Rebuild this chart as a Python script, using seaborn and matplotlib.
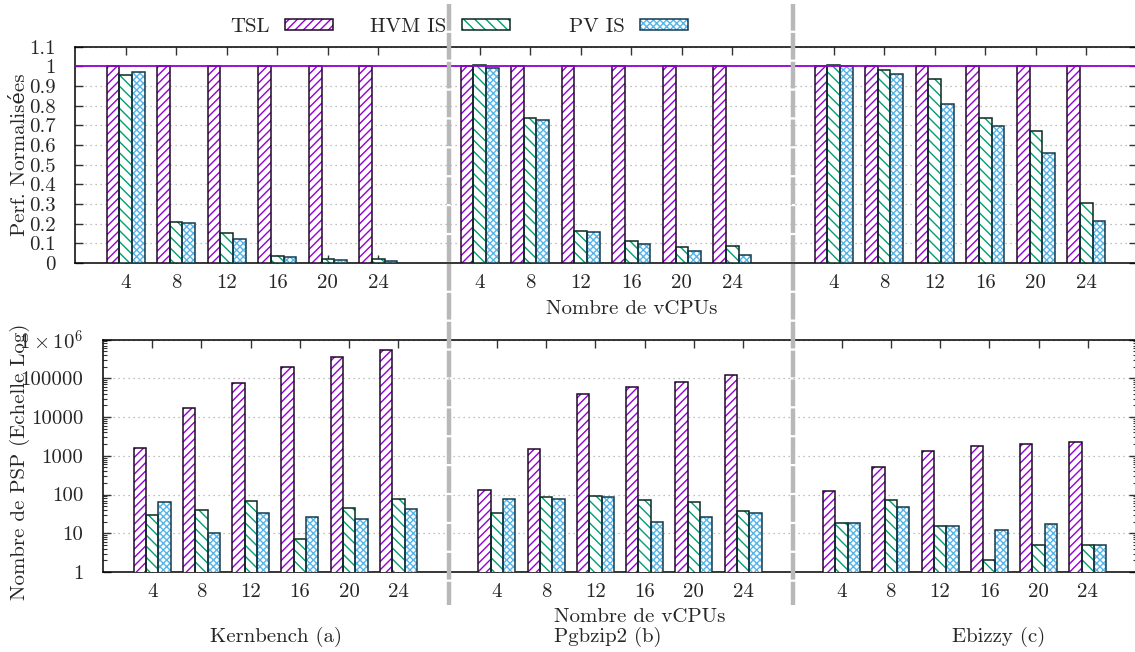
import matplotlib
matplotlib.use("Agg")
import matplotlib.pyplot as plt
import seaborn as sns
import pandas as pd
from matplotlib.patches import Patch, Rectangle
from matplotlib.ticker import LogLocator, NullFormatter

# ---------------- data ----------------
benchmarks = ["Kernbench (a)", "Pgbzip2 (b)", "Ebizzy (c)"]
vcpus = [4, 8, 12, 16, 20, 24]
series = ["TSL", "HVM IS", "PV IS"]

# normalised performance (top panel)
perf_tsl_kernbench = [1.0, 1.0, 1.0, 1.0, 1.0, 1.0]
perf_hvm_kernbench = [0.956, 0.206, 0.151, 0.037, 0.022, 0.020]
perf_pv_kernbench = [0.973, 0.205, 0.124, 0.032, 0.015, 0.010]
perf_tsl_pgbzip2 = [1.0, 1.0, 1.0, 1.0, 1.0, 1.0]
perf_hvm_pgbzip2 = [1.005, 0.739, 0.162, 0.113, 0.081, 0.088]
perf_pv_pgbzip2 = [0.990, 0.728, 0.157, 0.096, 0.061, 0.041]
perf_tsl_ebizzy = [1.0, 1.0, 1.0, 1.0, 1.0, 1.0]
perf_hvm_ebizzy = [1.005, 0.983, 0.934, 0.739, 0.670, 0.305]
perf_pv_ebizzy = [1.000, 0.959, 0.807, 0.699, 0.557, 0.215]

# number of PSP (bottom panel, log scale)
psp_tsl_kernbench = [1620, 16800, 74300, 192000, 355000, 540000]
psp_hvm_kernbench = [29, 40, 67, 7, 44, 75]
psp_pv_kernbench = [65, 10, 33, 27, 24, 42]
psp_tsl_pgbzip2 = [128, 1470, 40200, 61000, 79000, 119000]
psp_hvm_pgbzip2 = [33, 88, 90, 71, 63, 38]
psp_pv_pgbzip2 = [78, 77, 86, 19, 27, 34]
psp_tsl_ebizzy = [121, 525, 1300, 1750, 1980, 2320]
psp_hvm_ebizzy = [18, 72, 15, 2, 5, 5]
psp_pv_ebizzy = [18, 47, 15, 12, 17, 5]

perf_ticks = [0, 0.1, 0.2, 0.3, 0.4, 0.5, 0.6, 0.7, 0.8, 0.9, 1.0, 1.1]
perf_tick_labels = ["0", "0.1", "0.2", "0.3", "0.4", "0.5", "0.6", "0.7",
                    "0.8", "0.9", "1", "1.1"]
psp_ticks = [1, 10, 100, 1000, 10000, 100000, 1000000]
psp_tick_labels = ["1", "10", "100", "1000", "10000", "100000", r"$1\times10^{6}$"]

perf_data = {
    "Kernbench (a)": [perf_tsl_kernbench, perf_hvm_kernbench, perf_pv_kernbench],
    "Pgbzip2 (b)": [perf_tsl_pgbzip2, perf_hvm_pgbzip2, perf_pv_pgbzip2],
    "Ebizzy (c)": [perf_tsl_ebizzy, perf_hvm_ebizzy, perf_pv_ebizzy],
}
psp_data = {
    "Kernbench (a)": [psp_tsl_kernbench, psp_hvm_kernbench, psp_pv_kernbench],
    "Pgbzip2 (b)": [psp_tsl_pgbzip2, psp_hvm_pgbzip2, psp_pv_pgbzip2],
    "Ebizzy (c)": [psp_tsl_ebizzy, psp_hvm_ebizzy, psp_pv_ebizzy],
}

# ---------------- style ----------------
sns.set_theme(style="white")
FONT = ["cmr10", "DejaVu Serif"]
plt.rcParams["font.family"] = FONT
plt.rcParams["mathtext.fontset"] = "cm"
plt.rcParams["axes.formatter.use_mathtext"] = True
plt.rcParams["hatch.linewidth"] = 1.0
FS = 15

hatch_colors = {"TSL": "#9400d3", "HVM IS": "#009e73", "PV IS": "#56b4e9"}
outline_colors = {"TSL": "#1e0826", "HVM IS": "#082a1f", "PV IS": "#163a4a"}
hatches = {"TSL": "////", "HVM IS": "\\\\\\", "PV IS": "xxxxx"}

slot = len(vcpus) + 1  # one empty slot between benchmarks


def tidy(data):
    rows = []
    for b, bench in enumerate(benchmarks):
        for s, name in enumerate(series):
            for i, v in enumerate(vcpus):
                rows.append({"pos": b * slot + i, "series": name, "value": data[bench][s][i]})
    return pd.DataFrame(rows)


df_perf = tidy(perf_data)
df_psp = tidy(psp_data)
positions = sorted(df_perf["pos"].unique())
xlabels = [str(v) for v in vcpus] * len(benchmarks)

W, H = 1135, 652
fig = plt.figure(figsize=(W / 100, H / 100), dpi=100)
ax_top = fig.add_axes([75 / W, 1 - 263 / H, (1137 - 75) / W, (263 - 46.7) / H])
ax_bot = fig.add_axes([103 / W, 1 - 572 / H, (1137 - 103) / W, (572 - 339.5) / H])


def draw(ax, df):
    sns.barplot(data=df, x="pos", y="value", hue="series", hue_order=series,
                native_scale=True, width=0.75, errorbar=None, legend=False,
                palette=hatch_colors, saturation=1, ax=ax, zorder=3)
    for name, cont in zip(series, ax.containers):
        for p in cont.patches:
            p.set_facecolor("white")
            p.set_edgecolor(hatch_colors[name])
            p.set_hatch(hatches[name])
            p.set_linewidth(0)
            ax.add_patch(Rectangle((p.get_x(), p.get_y()), p.get_width(), p.get_height(),
                                   fill=False, edgecolor=outline_colors[name],
                                   linewidth=1.1, zorder=3.5))


draw(ax_top, df_perf)
draw(ax_bot, df_psp)

for ax in (ax_top, ax_bot):
    ax.set_xlim(-1, 20)
    ax.set_xticks(positions, labels=xlabels)
    ax.set_xlabel("")
    ax.set_ylabel("")
    for side in ("left", "top", "bottom"):
        ax.spines[side].set_visible(True)
        ax.spines[side].set_color("black")
        ax.spines[side].set_linewidth(1.1)
    ax.spines["right"].set_visible(False)
    ax.tick_params(axis="both", which="major", direction="in", length=6, width=1,
                   color="#333333", labelsize=FS, top=True, right=True,
                   left=True, bottom=True)
    ax.tick_params(axis="x", pad=8)
    ax.grid(axis="y", which="major", linestyle=(0, (1, 3)), color="#aaaaaa",
            linewidth=0.9, zorder=0)
    ax.grid(axis="x", visible=False)
    ax.set_axisbelow(True)

# top panel
ax_top.set_ylim(0, 1.1)
ax_top.set_yticks(perf_ticks, labels=perf_tick_labels)
ax_top.tick_params(axis="y", pad=14)
ax_top.axhline(1.0, color="#9400d3", linewidth=1.3, zorder=5)

# bottom panel
ax_bot.set_yscale("log")
ax_bot.set_ylim(1, 1e6)
ax_bot.set_yticks(psp_ticks, labels=psp_tick_labels)
ax_bot.yaxis.set_minor_locator(LogLocator(base=10, subs=(2, 3, 4, 5, 6, 7, 8, 9), numticks=20))
ax_bot.yaxis.set_minor_formatter(NullFormatter())
ax_bot.tick_params(axis="y", which="minor", direction="in", length=3, width=0.8,
                   color="#333333", left=True, right=True)
ax_bot.tick_params(axis="y", pad=14)

# gray dividers
for xd in (449, 793):
    fig.add_artist(plt.Line2D([xd / W, xd / W], [1 - 4 / H, 1 - 605 / H],
                              transform=fig.transFigure, color="#b8b8b8",
                              linewidth=3.2, linestyle=(0, (6, 0.5)), zorder=10))

# texts
fig.text(632 / W, 1 - 309 / H, "Nombre de vCPUs", ha="center", va="center", fontsize=FS)
fig.text(640 / W, 1 - 617 / H, "Nombre de vCPUs", ha="center", va="center", fontsize=FS)
for bench, xc in zip(benchmarks, (276, 608, 999)):
    fig.text(xc / W, 1 - 637 / H, bench, ha="center", va="center", fontsize=FS)
fig.text(20 / W, 1 - 155 / H, "Perf. Normalisées", rotation=90, ha="center",
         va="center", fontsize=FS)
fig.text(20 / W, 1 - 462 / H, "Nombre de PSP (Echelle Log)", rotation=90,
         ha="center", va="center", fontsize=FS)

# legend (gnuplot style: text then sample), one entry per fixed-width column
for name, xend in zip(series, (333, 510, 688)):
    h = (Patch(facecolor="white", edgecolor=hatch_colors[name], hatch=hatches[name], linewidth=0),
         Patch(facecolor="none", edgecolor=outline_colors[name], linewidth=1.1))
    fig.legend(handles=[h], labels=[name], loc="center right",
               bbox_to_anchor=(xend / W, 1 - 27 / H), bbox_transform=fig.transFigure,
               frameon=False, markerfirst=False, fontsize=FS, handlelength=2.3,
               handleheight=0.4, handletextpad=0.75, borderpad=0, borderaxespad=0,
               handler_map={tuple: matplotlib.legend_handler.HandlerTuple(ndivide=1)})

fig.savefig("out.png", dpi=100)
